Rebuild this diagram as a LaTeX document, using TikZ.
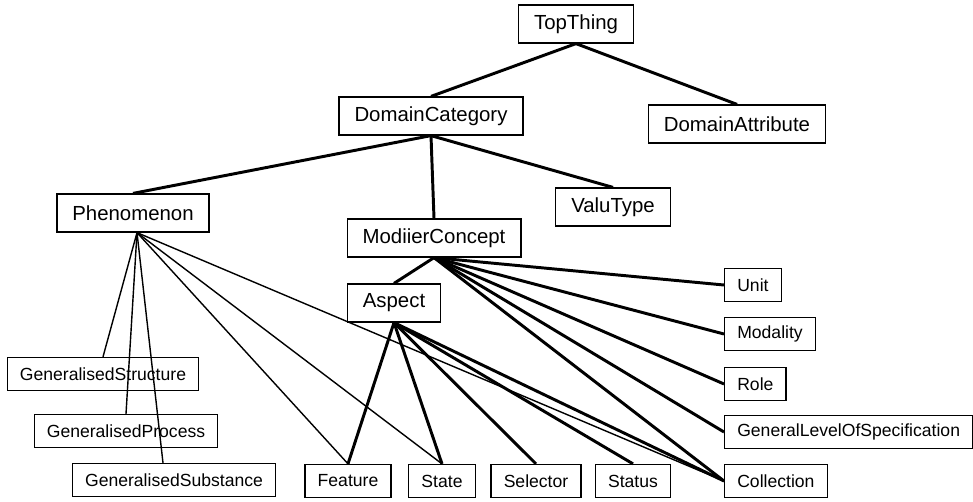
\documentclass[tikz,border=0pt]{standalone}
\usepackage{fontspec}
\setmainfont{Liberation Sans}
\usetikzlibrary{positioning}

\begin{document}
\begin{tikzpicture}[
    x=0.025cm,
    y=-0.025cm,
    box/.style={
        draw=black,
        line width=0.9pt,
        inner xsep=11pt,
        minimum height=27pt,
        font=\fontsize{14.5}{16}\selectfont
    },
    leaf/.style={
        draw=black,
        line width=0.9pt,
        inner xsep=9pt,
        minimum height=23.5pt,
        font=\fontsize{12.5}{14}\selectfont
    },
    link/.style={line width=2.1pt},
    thinlink/.style={line width=1pt}
]
\useasboundingbox (0,0) rectangle (973,501);

\node[box] (top) at (576,24) {TopThing};
\node[box] (dcat) at (431,116) {DomainCategory};
\node[box] (dattr) at (737,124) {DomainAttribute};
\node[box] (pheno) at (133,213) {Phenomenon};
\node[box] (valu) at (613,207) {ValuType};
\node[box] (modc) at (434,238) {ModiierConcept};
\node[box] (asp) at (394,303) {Aspect};

\node[leaf, anchor=west] (unit) at (724,285) {Unit};
\node[leaf, anchor=west] (modal) at (724,334) {Modality};
\node[leaf, anchor=west] (role) at (724,384) {Role};
\node[leaf, anchor=west] (glos) at (724,432) {GeneralLevelOfSpecification};
\node[leaf, anchor=west] (coll) at (724,481) {Collection};

\node[leaf] (feat) at (348,481) {Feature};
\node[leaf] (state) at (442,481) {State};
\node[leaf] (sel) at (536,481) {Selector};
\node[leaf] (stat) at (633,481) {Status};

\node[leaf] (gstr) at (103,374) {GeneralisedStructure};
\node[leaf] (gproc) at (126,431) {GeneralisedProcess};
\node[leaf] (gsub) at (174,480) {GeneralisedSubstance};

\draw[link] (top.south) -- (dcat.north);
\draw[link] (top.south) -- (dattr.north);
\draw[link] (dcat.south) -- (pheno.north);
\draw[link] (dcat.south) -- (modc.north);
\draw[link] (dcat.south) -- (valu.north);
\draw[link] (modc.south) -- (asp.north);

\foreach \leafname in {unit,modal,role,glos,coll}
    \draw[link] (modc.south) -- (\leafname.west);

\foreach \leafname in {feat,state,sel,stat}
    \draw[link] (asp.south) -- (\leafname.north);
\draw[link] (asp.south) -- (coll.west);

\foreach \leafname in {gstr,gproc,feat,state}
    \draw[thinlink] ([xshift=0.1cm]pheno.south) -- (\leafname.north);
\draw[thinlink] ([xshift=0.1cm]pheno.south) -- ([xshift=-0.275cm]gsub.north);
\draw[thinlink] ([xshift=0.1cm]pheno.south) -- (coll.west);

\end{tikzpicture}
\end{document}
